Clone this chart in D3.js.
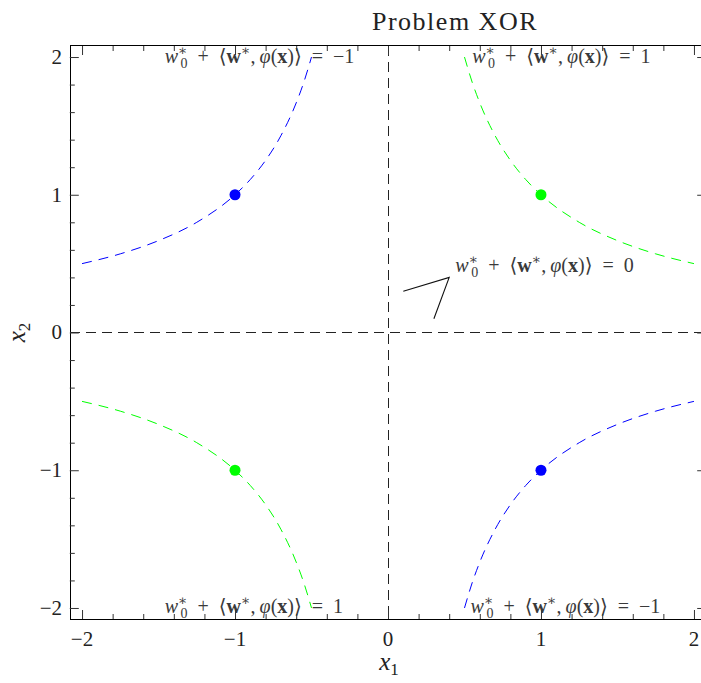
<!DOCTYPE html>
<html>
<head>
<meta charset="utf-8">
<script src="https://cdn.jsdelivr.net/npm/d3@7"></script>
<style>
  body { margin: 0; background: #fff; }
  svg { display: block; }
  svg text { font-family: "Liberation Serif", "DejaVu Serif", serif !important; }
</style>
</head>
<body>
<svg id="chart" width="701" height="683" font-family="Liberation Serif, DejaVu Serif, serif"></svg>
<script>
// ---- data ----
const title = "Problem XOR";
const xMajorTicks = [-2, -1, 0, 1, 2];
const yMajorTicks = [-2, -1, 0, 1, 2];
const tickLabels = ["\u22122", "\u22121", "0", "1", "2"];
const minorTicks = [-2, -1.8, -1.6, -1.4, -1.2, -1, -0.8, -0.6, -0.4, -0.2, 0, 0.2, 0.4, 0.6, 0.8, 1, 1.2, 1.4, 1.6, 1.8, 2];

// decision curves (hyperbolas)
const blueUpperX = [-2, -1.75, -1.5, -1.25, -1, -0.9, -0.8, -0.7, -0.6, -0.55, -0.5];
const blueUpperY = [0.5, 0.571, 0.667, 0.8, 1, 1.111, 1.25, 1.429, 1.667, 1.818, 2];
const blueLowerX = [0.5, 0.55, 0.6, 0.7, 0.8, 0.9, 1, 1.25, 1.5, 1.75, 2];
const blueLowerY = [-2, -1.818, -1.667, -1.429, -1.25, -1.111, -1, -0.8, -0.667, -0.571, -0.5];
const greenUpperX = [0.5, 0.55, 0.6, 0.7, 0.8, 0.9, 1, 1.25, 1.5, 1.75, 2];
const greenUpperY = [2, 1.818, 1.667, 1.429, 1.25, 1.111, 1, 0.8, 0.667, 0.571, 0.5];
const greenLowerX = [-2, -1.75, -1.5, -1.25, -1, -0.9, -0.8, -0.7, -0.6, -0.55, -0.5];
const greenLowerY = [-0.5, -0.571, -0.667, -0.8, -1, -1.111, -1.25, -1.429, -1.667, -1.818, -2];

// points
const pointX = [-1, 1, -1, 1];
const pointY = [1, 1, -1, -1];
const pointClass = ["blue", "green", "green", "blue"];

// level labels (start positions)
const labelX = [-1.46, 0.55, -1.46, 0.54, 0.44];
const labelY = [1.955, 1.955, -2.04, -2.04, 0.44];
const labelValue = ["\u22121", "1", "1", "\u22121", "0"];

// pointer lines for the zero label
const pointerX = [0.1, 0.4, 0.3];
const pointerY = [0.3, 0.4, 0.1];

// ---- chart ----
const FONT = "Liberation Serif, DejaVu Serif, serif";
const colors = { blue: "#0000ff", green: "#00ff00" };
const svg = d3.select("#chart");
const x = d3.scaleLinear().domain([-2.08, 2.08]).range([69.8, 706.2]);
const y = d3.scaleLinear().domain([-2.08, 2.08]).range([619, 46]);

// frame
svg.append("rect")
  .attr("x", 70).attr("y", 45.5)
  .attr("width", 640).attr("height", 574)
  .attr("fill", "none").attr("stroke", "#000").attr("stroke-width", 1)
  .attr("shape-rendering", "crispEdges");

// zero lines dashed
svg.append("line")
  .attr("x1", x(0)).attr("x2", x(0)).attr("y1", y(2.08)).attr("y2", y(-2.08))
  .attr("stroke", "#222").attr("stroke-width", 1).attr("stroke-dasharray", "10,6")
  .attr("shape-rendering", "crispEdges");
svg.append("line")
  .attr("x1", x(-2.08)).attr("x2", x(2.08)).attr("y1", y(0)).attr("y2", y(0))
  .attr("stroke", "#222").attr("stroke-width", 1).attr("stroke-dasharray", "10,6")
  .attr("shape-rendering", "crispEdges");

// axes (ticks inward)
function addAxis(gen, transform, values, size) {
  const g = svg.append("g").attr("transform", transform)
    .call(gen.tickValues(values).tickSizeInner(-size).tickSizeOuter(0).tickFormat(() => ""));
  g.select(".domain").remove();
  g.selectAll(".tick line").attr("stroke", "#333").attr("stroke-width", 1);
  return g;
}
const minorOnly = minorTicks.filter(v => !xMajorTicks.includes(v));
addAxis(d3.axisBottom(x), `translate(0,${y(-2.08)})`, minorOnly, 5);
addAxis(d3.axisBottom(x), `translate(0,${y(-2.08)})`, xMajorTicks, 9);
addAxis(d3.axisTop(x), `translate(0,${y(2.08)})`, minorOnly, 5);
addAxis(d3.axisTop(x), `translate(0,${y(2.08)})`, xMajorTicks, 9);
addAxis(d3.axisLeft(y), `translate(${x(-2.08)},0)`, minorOnly, 5);
addAxis(d3.axisLeft(y), `translate(${x(-2.08)},0)`, yMajorTicks, 9);
addAxis(d3.axisRight(y), `translate(${x(2.08)},0)`, minorOnly, 5);
addAxis(d3.axisRight(y), `translate(${x(2.08)},0)`, yMajorTicks, 9);

// tick labels
svg.append("g").selectAll("text").data(xMajorTicks).join("text")
  .attr("font-family", FONT)
  .attr("x", d => x(d)).attr("y", 646).attr("text-anchor", "middle")
  .attr("font-size", 21).attr("fill", "#222").text((d, i) => tickLabels[i]);
svg.append("g").selectAll("text").data(yMajorTicks).join("text")
  .attr("font-family", FONT)
  .attr("x", 62).attr("y", d => y(d)).attr("dy", "0.33em").attr("text-anchor", "end")
  .attr("font-size", 21).attr("fill", "#222").text((d, i) => tickLabels[i]);

// curves
const line = d3.line().x(d => x(d[0])).y(d => y(d[1])).curve(d3.curveMonotoneX);
const curves = [
  { xs: blueUpperX, ys: blueUpperY, c: "blue" },
  { xs: blueLowerX, ys: blueLowerY, c: "blue" },
  { xs: greenUpperX, ys: greenUpperY, c: "green" },
  { xs: greenLowerX, ys: greenLowerY, c: "green" }
];
svg.append("g").selectAll("path").data(curves).join("path")
  .attr("d", d => line(d.xs.map((v, i) => [v, d.ys[i]])))
  .attr("fill", "none").attr("stroke", d => colors[d.c])
  .attr("stroke-width", 1).attr("stroke-dasharray", "10,7");

// points
svg.append("g").selectAll("circle").data(pointX).join("circle")
  .attr("cx", d => x(d)).attr("cy", (d, i) => y(pointY[i])).attr("r", 5.5)
  .attr("fill", (d, i) => colors[pointClass[i]]);

// pointer
svg.append("path")
  .attr("d", d3.line()(pointerX.map((v, i) => [x(v), y(pointerY[i])])))
  .attr("fill", "none").attr("stroke", "#111").attr("stroke-width", 1.1);

// labels
const SP = "\u2002";
const lab = svg.append("g").selectAll("text").data(labelX).join("text")
  .attr("font-family", FONT)
  .attr("x", d => x(d)).attr("y", (d, i) => y(labelY[i]))
  .attr("text-anchor", "start").attr("font-size", 20).attr("fill", "#3a3a3a");
lab.each(function(d, i) {
  const t = d3.select(this);
  t.append("tspan").attr("font-style", "italic").text("w");
  t.append("tspan").attr("font-size", 14).attr("dy", -8).text("\u2217");
  t.append("tspan").attr("font-size", 14).attr("dx", -7).attr("dy", 13).text("0");
  t.append("tspan").attr("dy", -5).text(SP + "+" + SP + "\u27E8");
  t.append("tspan").attr("font-weight", "bold").text("w");
  t.append("tspan").attr("font-size", 14).attr("dy", -8).text("\u2217");
  t.append("tspan").attr("dy", 8).text(",\u2009");
  t.append("tspan").attr("font-style", "italic").text("\u03C6");
  t.append("tspan").text("(");
  t.append("tspan").attr("font-weight", "bold").text("x");
  t.append("tspan").text(")\u27E9" + SP + "=" + SP + labelValue[i]);
});

// title
svg.append("text").attr("font-family", FONT).attr("x", 455).attr("y", 30).attr("text-anchor", "middle")
  .attr("font-size", 26).attr("letter-spacing", 1.5).attr("fill", "#222").text(title);

// axis titles
const xt = svg.append("text").attr("font-family", FONT).attr("x", 389).attr("y", 670).attr("text-anchor", "middle")
  .attr("font-size", 25).attr("fill", "#222");
xt.append("tspan").attr("font-style", "italic").text("x");
xt.append("tspan").attr("font-size", 17).attr("dy", 5).text("1");
const yt = svg.append("text").attr("font-family", FONT).attr("transform", `translate(25,${y(0)}) rotate(-90)`)
  .attr("text-anchor", "middle").attr("font-size", 25).attr("fill", "#222");
yt.append("tspan").attr("font-style", "italic").text("x");
yt.append("tspan").attr("font-size", 17).attr("dy", 5).text("2");
</script>
</body>
</html>
